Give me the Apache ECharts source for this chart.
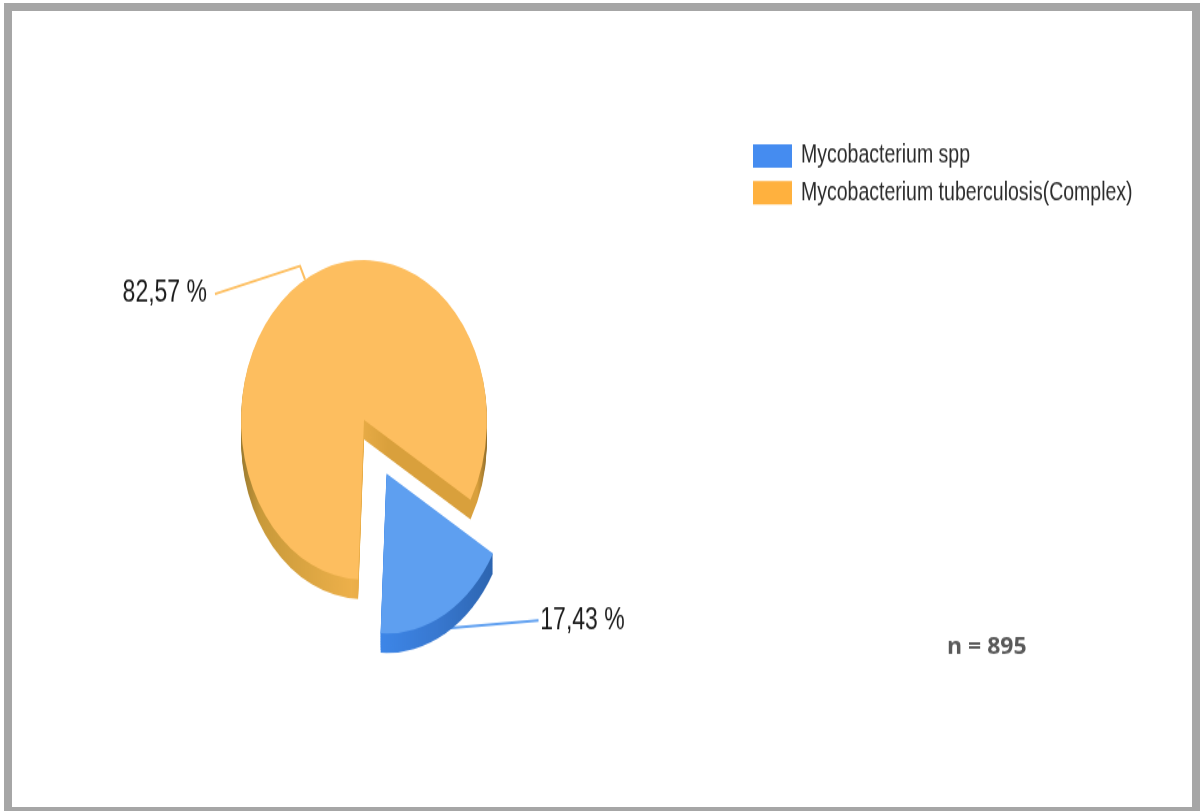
<!DOCTYPE html>
<html>
<head>
<meta charset="utf-8">
<title>Mycobacterium</title>
<script src="https://cdn.jsdelivr.net/npm/echarts@6/dist/echarts.min.js"></script>
<style>
  html, body { margin: 0; padding: 0; background: #fff; overflow: hidden; }
  #frame {
    position: absolute; left: 4px; top: 3px; width: 1196px; height: 808px;
    box-sizing: border-box; border: solid #a6a6a6; border-width: 8px 8px 4px 8px;
  }
  /* the source picture is stretched vertically, text included */
  #chart {
    position: absolute; left: 0; top: 0; width: 1200px; height: 624px;
    transform: scaleY(1.3); transform-origin: 0 0;
  }
</style>
</head>
<body>
<div id="chart"></div>
<div id="frame"></div>
<script>
var categories = ["Mycobacterium spp", "Mycobacterium tuberculosis(Complex)"];
var percents = [17.43, 82.57];
var sampleNote = "n = 895";

var STRETCH = 1.3;
var depthLayers = [15, 13, 11, 9, 7, 5, 3, 1];
var legendColors = ["#458cf0", "#ffb13e"];
var topColors = ["#5e9ff0", "#fdbe5f"];

function sideGradient(stops) {
  return new echarts.graphic.LinearGradient(0, 0, 1, 0, stops);
}
var sideColors = [
  sideGradient([
    { offset: 0, color: "#3d86e8" },
    { offset: 0.5, color: "#3878d0" },
    { offset: 1, color: "#2d65b0" },
  ]),
  sideGradient([
    { offset: 0, color: "#9a7a30" },
    { offset: 0.08, color: "#c99a3a" },
    { offset: 0.45, color: "#edb04a" },
    { offset: 0.6, color: "#d9a03c" },
    { offset: 0.96, color: "#d9a03c" },
    { offset: 1, color: "#8f6c2a" },
  ]),
];

function sliceData(colors) {
  return categories.map(function (name, i) {
    return {
      name: name,
      value: percents[i],
      selected: i === 0,
      itemStyle: { color: colors[i] },
      select: { itemStyle: { color: colors[i] } },
    };
  });
}

function pieBase(dy) {
  return {
    type: "pie",
    radius: [0, 123],
    center: [364, 323 + dy],
    startAngle: 330,
    clockwise: true,
    selectedMode: "single",
    selectedOffset: 47,
    animation: false,
    silent: true,
    label: { show: false },
    labelLine: { show: false },
  };
}

var series = depthLayers.map(function (dy) {
  return Object.assign(pieBase(dy), { data: sliceData(sideColors) });
});

var topData = sliceData(topColors);
// a selected slice ignores labelLayout x/y, so its label is placed by the line lengths
topData[0].labelLine = { length: 6, length2: 87 };

series.push(
  Object.assign(pieBase(0), {
    data: topData,
    label: {
      show: true,
      formatter: function (p) {
        return p.value.toFixed(2).replace(".", ",") + " %";
      },
      color: "#1a1a1a",
      fontFamily: "Liberation Sans",
      fontSize: 23,
    },
    labelLine: { show: true, length: 11, length2: 70, smooth: false, lineStyle: { width: 2 } },
    labelLayout: function (p) {
      var pts = p.labelLinePoints;
      if (p.dataIndex === 0) {
        // leader of the pulled-out slice is local to the slice, so take its offset off
        var shift = [22, 41];
        var start = [447 - shift[0], 628 / STRETCH - shift[1]];
        var end = [538 - shift[0], 620 / STRETCH - shift[1]];
        return { labelLinePoints: [start, end, end] };
      }
      return {
        x: 207,
        y: 294 / STRETCH,
        align: "right",
        verticalAlign: "middle",
        labelLinePoints: [pts[0], [300, 266 / STRETCH], [215, 294 / STRETCH]],
      };
    },
  })
);

var chart = echarts.init(document.getElementById("chart"));
chart.setOption({
  animation: false,
  backgroundColor: "transparent",
  legend: {
    orient: "vertical",
    left: 748,
    top: 105,
    itemWidth: 39,
    itemHeight: 18,
    itemGap: 8.3,
    icon: "rect",
    selectedMode: false,
    textStyle: { fontFamily: "Liberation Sans", fontSize: 19.5, color: "#2b2b2b", padding: [2, 0, -2, 4] },
    data: categories.map(function (name, i) {
      return { name: name, itemStyle: { color: legendColors[i] } };
    }),
  },
  graphic: [
    {
      type: "text",
      x: 947,
      y: 647 / STRETCH,
      scaleY: 1 / STRETCH,
      style: {
        text: sampleNote,
        fontFamily: "Open Sans",
        fontWeight: "bold",
        fontSize: 23,
        fill: "#595959",
        verticalAlign: "middle",
      },
    },
  ],
  series: series,
});
</script>
</body>
</html>
